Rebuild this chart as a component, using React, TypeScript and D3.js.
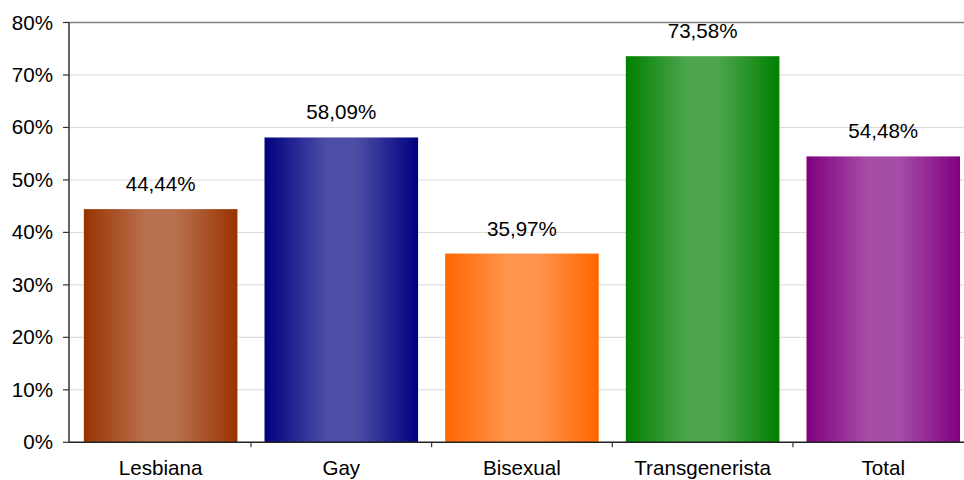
import React from "react";
import * as d3 from "d3";

const categories = ["Lesbiana", "Gay", "Bisexual", "Transgenerista", "Total"];
const values = [44.44, 58.09, 35.97, 73.58, 54.48];
const labels = ["44,44%", "58,09%", "35,97%", "73,58%", "54,48%"];
const yTicks = [0, 10, 20, 30, 40, 50, 60, 70, 80];
const edgeColors = ["#993300", "#000080", "#ff6600", "#008000", "#800080"];

const W = 964;
const H = 480;
const left = 69;
const top = 22.5;
const bottom = 442.3;
const bandStart = 70.3;
const bandEnd = 973.6;
const font = "'Liberation Sans', Arial, sans-serif";
const fs = 20.6;

export default function App() {
  const y = d3.scaleLinear().domain([0, 80]).range([bottom, top]);
  const x = d3
    .scaleBand<string>()
    .domain(categories)
    .range([bandStart, bandEnd])
    .paddingInner(0.15)
    .paddingOuter(0.075);
  const step = x.step();
  const boundaries = d3.range(categories.length + 1).map((k) => bandStart + k * step);

  return (
    <svg width={W} height={H} style={{ position: "absolute", left: 0, top: 0 }}>
      <defs>
        {edgeColors.map((c, i) => {
          const light = d3.interpolateRgb(c, "#ffffff")(0.3);
          return (
            <linearGradient id={`g${i}`} key={i} x1="0" x2="1" y1="0" y2="0">
              <stop offset="0%" stopColor={c} />
              <stop offset="40%" stopColor={light} />
              <stop offset="60%" stopColor={light} />
              <stop offset="100%" stopColor={c} />
            </linearGradient>
          );
        })}
      </defs>
      <rect x={0} y={0} width={W} height={H} fill="#fff" />
      {yTicks.slice(1, -1).map((t) => (
        <line key={t} x1={left} x2={W} y1={y(t)} y2={y(t)} stroke="#d9d9d9" strokeWidth={1} />
      ))}
      <line x1={left} x2={W} y1={y(80)} y2={y(80)} stroke="#808080" strokeWidth={1.5} />
      {categories.map((c, i) => (
        <rect
          key={c}
          x={x(c)!}
          y={y(values[i])}
          width={x.bandwidth()}
          height={bottom - y(values[i])}
          fill={`url(#g${i})`}
        />
      ))}
      <line x1={left} x2={left} y1={top} y2={bottom} stroke="#333" strokeWidth={1.5} />
      <line x1={left} x2={W} y1={bottom} y2={bottom} stroke="#222" strokeWidth={1.5} />
      {yTicks.map((t) => (
        <g key={t}>
          <line x1={left - 6} x2={left} y1={y(t)} y2={y(t)} stroke="#333" strokeWidth={1.2} />
          <text
            x={53}
            y={y(t) + 7}
            textAnchor="end"
            fontFamily={font}
            fontSize={fs}
            fill="#000"
          >
            {t}%
          </text>
        </g>
      ))}
      {boundaries.slice(1).map((b, i) => (
        <line key={i} x1={b} x2={b} y1={bottom} y2={bottom + 5} stroke="#333" strokeWidth={1.2} />
      ))}
      {categories.map((c, i) => (
        <text
          key={c}
          x={x(c)! + x.bandwidth() / 2}
          y={y(values[i]) - 18}
          textAnchor="middle"
          fontFamily={font}
          fontSize={fs}
          fill="#000"
        >
          {labels[i]}
        </text>
      ))}
      {categories.map((c) => (
        <text
          key={c}
          x={x(c)! + x.bandwidth() / 2}
          y={475}
          textAnchor="middle"
          fontFamily={font}
          fontSize={fs}
          fill="#000"
        >
          {c}
        </text>
      ))}
    </svg>
  );
}
